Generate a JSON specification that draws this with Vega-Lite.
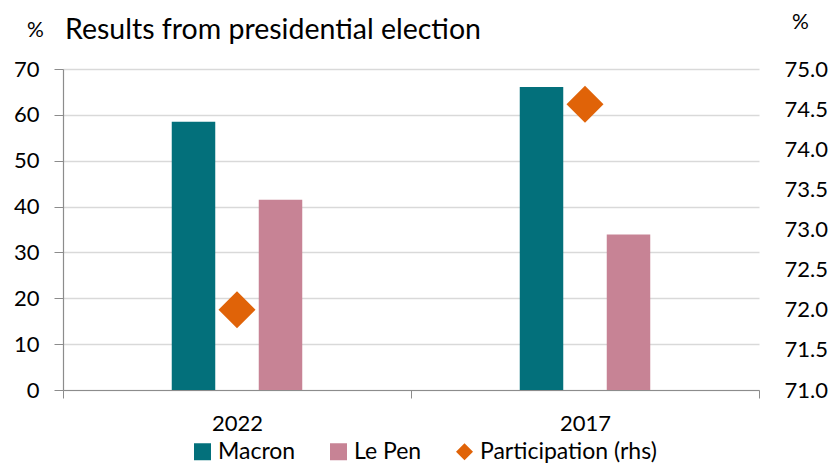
{
  "$schema": "https://vega.github.io/schema/vega-lite/v6.json",
  "width": 696,
  "height": 321,
  "autosize": {"type": "none"},
  "padding": {"left": 63, "top": 69, "right": 74, "bottom": 75},
  "background": "white",
  "config": {"font": "Lato", "view": {"stroke": null}},
  "title": {"text": "Results from presidential election", "anchor": "start", "frame": "group", "fontSize": 28.5, "fontWeight": "normal", "color": "#000000", "font": "Lato", "offset": -33, "dx": 2},
  "data": {"values": [
    {"year": "2022", "series": "Macron", "value": 58.5},
    {"year": "2022", "series": "Le Pen", "value": 41.5},
    {"year": "2022", "series": "Participation (rhs)", "value": 72.0},
    {"year": "2017", "series": "Macron", "value": 66.1},
    {"year": "2017", "series": "Le Pen", "value": 33.9},
    {"year": "2017", "series": "Participation (rhs)", "value": 74.56}
  ]},
  "encoding": {
    "x": {"field": "year", "type": "nominal", "sort": ["2022", "2017"],
      "scale": {"paddingInner": 0, "paddingOuter": 0},
      "axis": {"title": null, "labelAngle": 0, "labelFontSize": 22, "labelColor": "#000000", "domainColor": "#8c8c8c", "tickColor": "#8c8c8c", "tickBand": "extent", "tickSize": 8, "labelPadding": 15, "grid": false, "domainWidth": 1.2}}
  },
  "layer": [
    {
      "transform": [{"filter": "datum.series !== 'Participation (rhs)'"}],
      "mark": {"type": "bar"},
      "encoding": {
        "xOffset": {"field": "series", "type": "nominal", "scale": {"domain": ["s0", "s1", "Macron", "s3", "Le Pen", "s5", "s6"], "paddingInner": 0, "paddingOuter": 0.5}},
        "y": {"field": "value", "type": "quantitative", "scale": {"domain": [0, 70]},
          "axis": {"values": [0, 10, 20, 30, 40, 50, 60, 70], "title": "%", "titleAngle": 0, "titleX": -28, "titleY": -39, "titleFontSize": 21, "titleFontWeight": "normal", "titleBaseline": "middle", "titleAlign": "center", "titleColor": "#000000",
            "labelFontSize": 22, "labelColor": "#000000", "labelPadding": 15, "tickSize": 9, "tickColor": "#8c8c8c", "domainColor": "#8c8c8c", "domainWidth": 1.2, "gridColor": "#D9D9D9", "gridWidth": 1.5, "grid": true}},
        "color": {"field": "series", "type": "nominal",
          "scale": {"domain": ["Macron", "Le Pen", "Participation (rhs)"], "range": ["#03707B", "#C78395", "#E06308"]},
          "legend": {"orient": "none", "legendX": 128, "legendY": 371, "title": null, "direction": "horizontal", "labelFontSize": 23, "labelColor": "#000000", "labelLimit": 400, "symbolSize": 289, "symbolType": "square", "symbolStrokeWidth": 0, "columnPadding": 31, "labelOffset": 4,
            "encode": {"symbols": {"update": {"shape": {"signal": "datum.value === 'Participation (rhs)' ? 'diamond' : 'square'"}}}}}}
      }
    },
    {
      "transform": [{"filter": "datum.series === 'Participation (rhs)'"}],
      "mark": {"type": "point", "shape": "diamond", "filled": true, "size": 1369, "opacity": 1},
      "encoding": {
        "y": {"field": "value", "type": "quantitative", "scale": {"domain": [71, 75], "zero": false},
          "axis": {"orient": "right", "values": [71, 71.5, 72, 72.5, 73, 73.5, 74, 74.5, 75], "format": ".1f", "domain": false, "ticks": false, "grid": false, "labelPadding": 25, "labelFontSize": 22, "labelColor": "#000000",
            "title": "%", "titleAngle": 0, "titleX": 41, "titleY": -47, "titleFontSize": 21, "titleFontWeight": "normal", "titleBaseline": "middle", "titleAlign": "center", "titleColor": "#000000"}},
        "color": {"field": "series", "type": "nominal"}
      }
    }
  ],
  "resolve": {"scale": {"y": "independent"}}
}
